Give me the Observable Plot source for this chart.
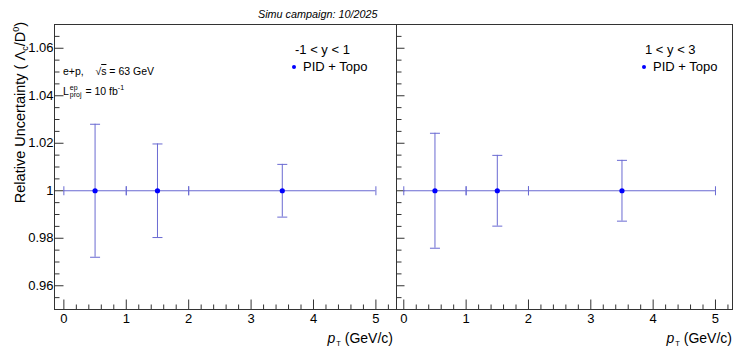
<!DOCTYPE html>
<html>
<head>
<meta charset="utf-8">
<script src="https://cdn.jsdelivr.net/npm/d3@7"></script>
<script src="https://cdn.jsdelivr.net/npm/@observablehq/plot@0.6"></script>
<style>
  html, body { margin: 0; padding: 0; background: #fff; }
  #wrap { position: relative; width: 733px; height: 348px; background: #fff; overflow: hidden;
          font-family: "Liberation Sans", Arial, Helvetica, sans-serif; color: #000; }
  #wrap svg { position: absolute; top: 0; }
  .t { position: absolute; white-space: nowrap; }
</style>
</head>
<body>
<div id="wrap"></div>
<script>
// ---- data ----
const ptCenter = [0.5, 1.5, 3.5];          // GeV/c
const ptLow    = [0, 1, 2];
const ptHigh   = [1, 2, 5];
const relValue = [1, 1, 1];
const errMidRapidity = [0.0280, 0.0197, 0.0111];   // -1 < y < 1
const errFwdRapidity = [0.0242, 0.0149, 0.0128];   //  1 < y < 3
const panelLabels = ["-1 < y < 1", "1 < y < 3"];
const seriesName = "PID + Topo";
const xTickValues = [0, 1, 2, 3, 4, 5];
const xTickLabels = ["0", "1", "2", "3", "4", "5"];
const yTickValues = [0.96, 0.98, 1, 1.02, 1.04, 1.06];
const yTickLabels = ["0.96", "0.98", "1", "1.02", "1.04", "1.06"];

const FONT = '"Liberation Sans", Arial, Helvetica, sans-serif';
const AXIS = "#333";
const ERR = "#6a6ad2";
const MARK = "#0000ff";
const yDomain = [0.95, 1.07];

const xMinor = d3.range(0, 27).map(i => +(i * 0.2).toFixed(2)).filter(v => !xTickValues.includes(v));
const yMinor = d3.range(0, 25).map(i => +(0.95 + i * 0.005).toFixed(3)).filter(v => !yTickValues.includes(v));

const tickShape = { draw(ctx, l) { ctx.moveTo(0, 0); ctx.lineTo(0, -l); } };
const vopts = { shape: tickShape, stroke: AXIS, strokeWidth: 1, strokeLinecap: "butt" };

function panel({ errors, width, marginLeft, marginRight, xDomain, showYLabels, yMajorLen }) {
  const data = ptCenter.map((c, i) => ({ c, lo: ptLow[i], hi: ptHigh[i], v: relValue[i], e: errors[i] }));
  const ev = { ...vopts, stroke: ERR };
  return Plot.plot({
    width, height: 348,
    marginTop: 24, marginBottom: 39, marginLeft, marginRight,
    style: { fontFamily: FONT, fontSize: "13px", color: "#000", background: "transparent", overflow: "visible" },
    x: { domain: xDomain },
    y: { domain: yDomain, axis: showYLabels ? undefined : null },
    marks: [
      Plot.frame({ stroke: AXIS }),
      Plot.axisX(xTickValues, { tickSize: 0, tickPadding: 4, label: null, fontSize: 13,
        tickFormat: d => xTickLabels[xTickValues.indexOf(d)] }),
      showYLabels ? Plot.axisY(yTickValues, { tickSize: 0, tickPadding: 1, label: null, fontSize: 13,
        tickFormat: d => yTickLabels[yTickValues.indexOf(d)] }) : null,
      // inward ticks
      Plot.vector(xTickValues, { x: d => d, frameAnchor: "bottom", length: 10, anchor: "start", ...vopts }),
      Plot.vector(xMinor, { x: d => d, frameAnchor: "bottom", length: 5, anchor: "start", ...vopts }),
      Plot.vector(yTickValues, { y: d => d, frameAnchor: "left", rotate: 90, length: yMajorLen, anchor: "start", ...vopts }),
      Plot.vector(yMinor, { y: d => d, frameAnchor: "left", rotate: 90, length: 5, anchor: "start", ...vopts }),
      // error bars
      Plot.ruleY(data, { y: "v", x1: "lo", x2: "hi", stroke: ERR, strokeWidth: 1 }),
      Plot.vector(data, { x: "lo", y: "v", length: 9, anchor: "middle", ...ev }),
      Plot.vector(data, { x: "hi", y: "v", length: 9, anchor: "middle", ...ev }),
      Plot.ruleX(data, { x: "c", y1: d => d.v - d.e, y2: d => d.v + d.e, stroke: ERR, strokeWidth: 1 }),
      Plot.vector(data, { x: "c", y: d => d.v + d.e, rotate: 90, length: 10, anchor: "middle", ...ev }),
      Plot.vector(data, { x: "c", y: d => d.v - d.e, rotate: 90, length: 10, anchor: "middle", ...ev }),
      Plot.dot(data, { x: "c", y: "v", r: 2.6, fill: MARK, stroke: "none" })
    ]
  });
}

const wrap = document.getElementById("wrap");

const left = panel({ errors: errMidRapidity, width: 397, marginLeft: 54, marginRight: 1,
  xDomain: [-0.15, 5.33], showYLabels: true, yMajorLen: 9 });
left.style.left = "0px";
wrap.appendChild(left);

const right = panel({ errors: errFwdRapidity, width: 337, marginLeft: 0, marginRight: 1,
  xDomain: [-0.117, 5.273], showYLabels: false, yMajorLen: 8 });
right.style.left = "396px";
wrap.appendChild(right);

function addText(html, style) {
  const d = document.createElement("div");
  d.className = "t";
  d.innerHTML = html;
  Object.assign(d.style, style);
  wrap.appendChild(d);
  return d;
}

// title
addText("Simu campaign: 10/2025", { left: "258px", top: "8px", fontSize: "10.8px", lineHeight: "12px", fontStyle: "italic" });

// y label
addText('Relative Uncertainty ( Λ<span style="font-size:9px;position:relative;top:3px">c</span>/D<span style="font-size:9px;position:relative;top:-6px">0</span>)',
  { left: "0px", top: "0px", fontSize: "14.5px", lineHeight: "14.5px",
    transform: "translate(12.5px, 22px) rotate(-90deg) translateX(-100%)", transformOrigin: "0 0" });

// x labels
const xl = '<i>p</i><span style="font-size:7.5px;position:relative;top:3px;margin-left:1px">T</span> (GeV/c)';
addText(xl, { right: "340px", top: "330px", fontSize: "14px", lineHeight: "16px" });
addText(xl, { right: "1px", top: "330px", fontSize: "14px", lineHeight: "16px" });

// annotation
addText('e+p,&nbsp;&nbsp;&nbsp; √<span style="text-decoration:overline">s</span> = 63 GeV',
  { left: "63px", top: "65px", fontSize: "10.5px", lineHeight: "12px" });
addText('L<span style="display:inline-flex;flex-direction:column;font-size:7px;line-height:7px;vertical-align:middle;margin:0 1px;position:relative;top:-1px"><span>ep</span><span>proj</span></span> = 10 fb<span style="font-size:7px;position:relative;top:-5px">-1</span>',
  { left: "63px", top: "83px", fontSize: "10.5px", lineHeight: "16px" });

// legends
function legend(x, label) {
  addText(label, { left: x + "px", top: "43px", fontSize: "13px", lineHeight: "14px" });
  const dot = document.createElement("div");
  Object.assign(dot.style, { position: "absolute", left: (x - 3.2) + "px", top: "64.8px", width: "4.4px", height: "4.4px",
    borderRadius: "50%", background: MARK });
  wrap.appendChild(dot);
  addText(seriesName, { left: (x + 8) + "px", top: "60px", fontSize: "13px", lineHeight: "14px" });
}
legend(295, panelLabels[0]);
legend(645, panelLabels[1]);
</script>
</body>
</html>
